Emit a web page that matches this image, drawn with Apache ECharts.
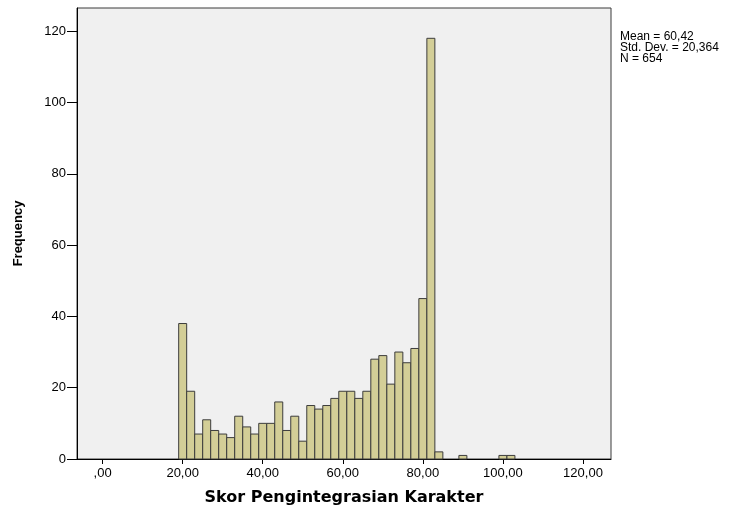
<!DOCTYPE html>
<html>
<head>
<meta charset="utf-8">
<script src="https://cdn.jsdelivr.net/npm/echarts@6/dist/echarts.min.js"></script>
<style>
  html, body { margin: 0; padding: 0; background: #ffffff; }
  #chart { width: 738px; height: 508px; }
</style>
</head>
<body>
<div id="chart"></div>
<script>
// Histogram bins: centre of each bin (score) and its frequency
const binCenters = [20, 22, 24, 26, 28, 30, 32, 34, 36, 38, 40, 42, 44, 46, 48, 50,
  52, 54, 56, 58, 60, 62, 64, 66, 68, 70, 72, 74, 76, 78, 80, 82, 84, 90, 100, 102];
const frequencies = [38, 19, 7, 11, 8, 7, 6, 12, 9, 7, 10, 10, 16, 8, 12, 5,
  15, 14, 15, 17, 19, 19, 17, 19, 28, 29, 21, 30, 27, 31, 45, 118, 2, 1, 1, 1];
const binWidth = 2;

const xTicks = [0, 20, 40, 60, 80, 100, 120];
const yTicks = [0, 20, 40, 60, 80, 100, 120];
const statsLines = ['Mean = 60,42', 'Std. Dev. = 20,364', 'N = 654'];

const fmtScore = v => (v === 0 ? ',00' : v + ',00');

const chart = echarts.init(document.getElementById('chart'), null, { renderer: 'canvas' });

chart.setOption({
  animation: false,
  backgroundColor: '#ffffff',
  textStyle: { fontFamily: 'Liberation Sans, Arial, sans-serif' },
  grid: {
    left: 77, right: 127, top: 8, bottom: 49,
    outerBoundsMode: 'none',
    containLabel: false,
    show: true,
    backgroundColor: '#f0f0f0',
    borderColor: '#3a3a3a',
    borderWidth: 1
  },
  title: {
    text: statsLines.join('\n'),
    left: 615, top: 26,
    textStyle: {
      fontSize: 12, fontWeight: 'normal', color: '#000',
      fontFamily: 'Liberation Sans, Arial, sans-serif', lineHeight: 11
    }
  },
  xAxis: {
    type: 'value',
    min: -6.4, max: 127,
    name: 'Skor Pengintegrasian Karakter',
    nameLocation: 'middle',
    nameGap: 31,
    nameTextStyle: { fontSize: 16, fontWeight: 'bold', color: '#000', fontFamily: 'DejaVu Sans, Verdana, sans-serif' },
    axisLine: { show: true, onZero: false, lineStyle: { color: '#000', width: 1 } },
    axisTick: { show: true, length: 5, customValues: xTicks, lineStyle: { color: '#000' } },
    axisLabel: { customValues: xTicks, formatter: fmtScore, fontSize: 13, color: '#000', margin: 8 },
    splitLine: { show: false }
  },
  yAxis: {
    type: 'value',
    min: 0, max: 126.5,
    name: 'Frequency',
    nameLocation: 'middle',
    nameGap: 52,
    nameTextStyle: { fontSize: 13, fontWeight: 'bold', color: '#000' },
    axisLine: { show: true, onZero: false, lineStyle: { color: '#000', width: 1 } },
    axisTick: { show: true, length: 10, customValues: yTicks, lineStyle: { color: '#000' } },
    axisLabel: { customValues: yTicks, fontSize: 13, color: '#000', margin: 11 },
    splitLine: { show: false }
  },
  series: [{
    type: 'custom',
    data: binCenters.map((c, i) => [c, frequencies[i]]),
    encode: { x: 0, y: 1 },
    renderItem: function (params, api) {
      const c = api.value(0);
      const f = api.value(1);
      const topLeft = api.coord([c - binWidth / 2, f]);
      const bottomRight = api.coord([c + binWidth / 2, 0]);
      return {
        type: 'rect',
        shape: {
          x: topLeft[0], y: topLeft[1],
          width: bottomRight[0] - topLeft[0],
          height: bottomRight[1] - topLeft[1]
        },
        style: { fill: '#d3ce97', stroke: '#3c3c3c', lineWidth: 1 }
      };
    }
  }]
});
</script>
</body>
</html>
